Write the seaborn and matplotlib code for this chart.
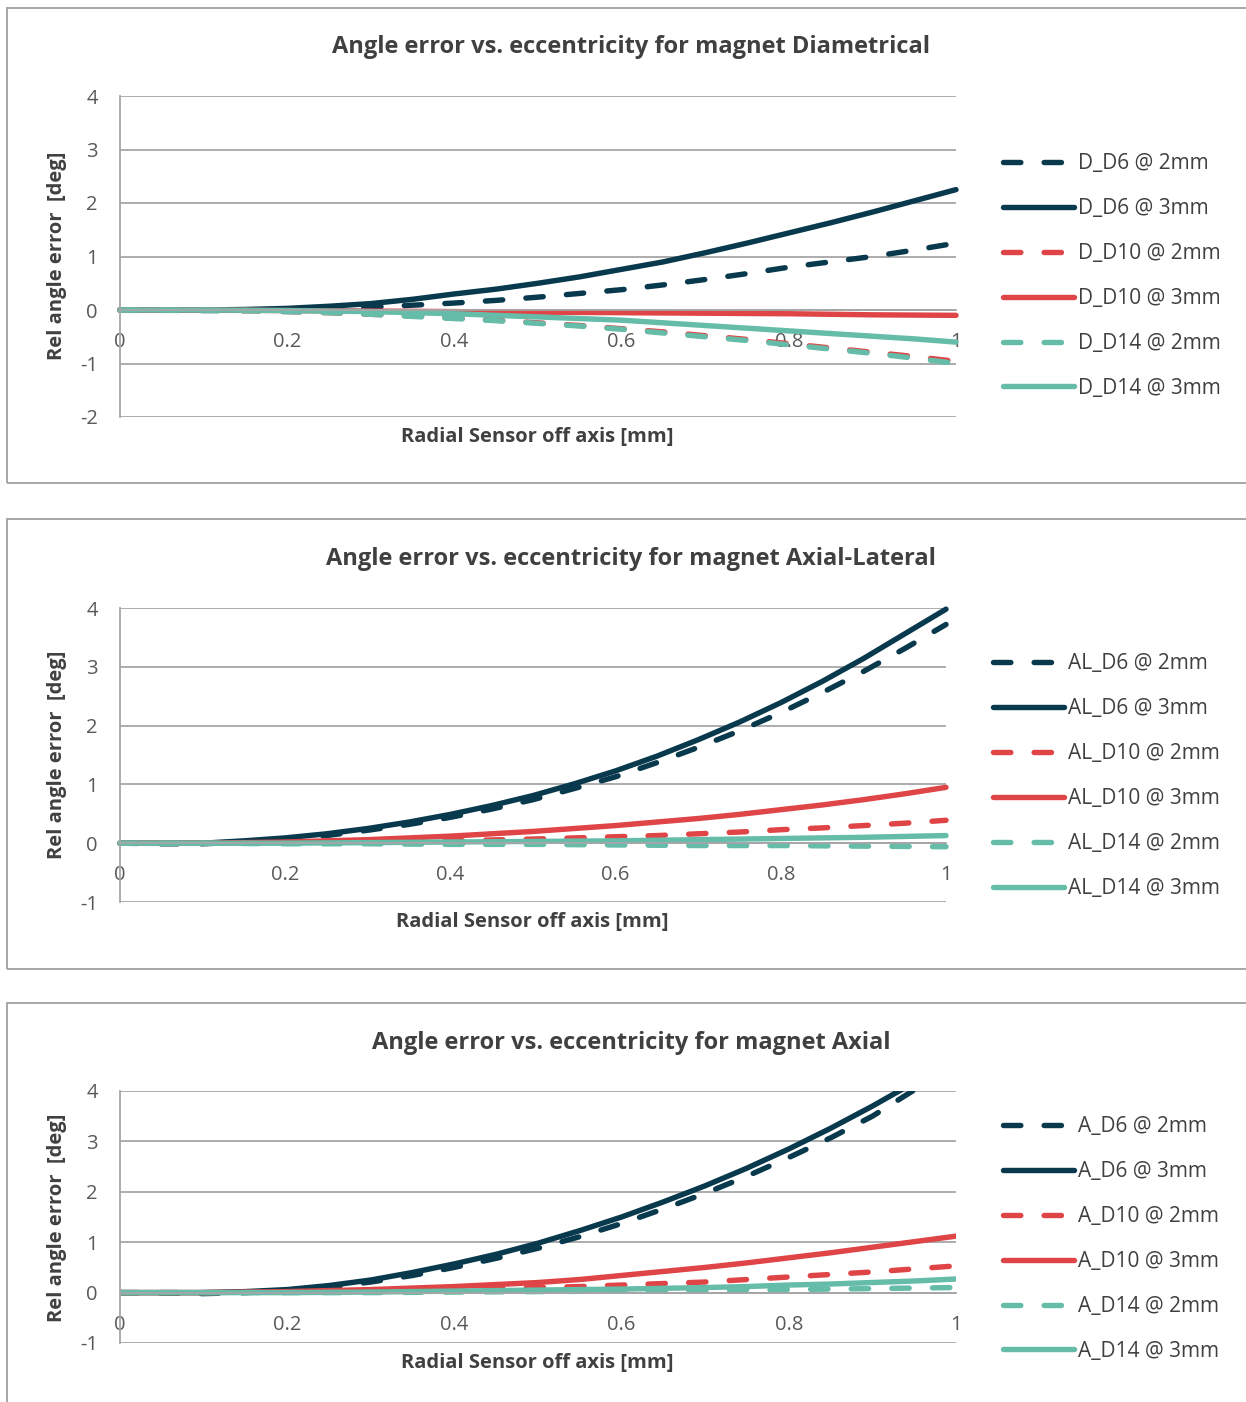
import numpy as np
import pandas as pd
import matplotlib
matplotlib.use("Agg")
import matplotlib.pyplot as plt
from matplotlib.patches import Rectangle
from matplotlib.lines import Line2D
import seaborn as sns

sns.set_theme(style="white")
plt.rcParams['font.family'] = ['Open Sans', 'DejaVu Sans']

# ---------------- data ----------------
x_mm = [0.0, 0.05, 0.1, 0.15, 0.2, 0.25, 0.3, 0.35, 0.4, 0.45, 0.5,
        0.55, 0.6, 0.65, 0.7, 0.75, 0.8, 0.85, 0.9, 0.95, 1.0]

# Diametrical
D_D6_2 = [0, -0.005, -0.01, -0.01, 0.0, 0.02, 0.05, 0.09, 0.13, 0.18, 0.24,
          0.31, 0.38, 0.47, 0.57, 0.68, 0.80, 0.90, 1.00, 1.12, 1.25]
D_D6_3 = [0, 0, 0, 0.01, 0.03, 0.07, 0.12, 0.20, 0.30, 0.39, 0.50,
          0.62, 0.76, 0.90, 1.07, 1.25, 1.44, 1.63, 1.83, 2.04, 2.25]
D_D10_2 = [0, 0, -0.005, -0.01, -0.03, -0.05, -0.08, -0.11, -0.15, -0.19, -0.24,
           -0.29, -0.35, -0.41, -0.48, -0.55, -0.63, -0.71, -0.79, -0.87, -0.96]
D_D10_3 = [0, 0, 0, -0.005, -0.01, -0.015, -0.02, -0.025, -0.03, -0.035, -0.04,
           -0.045, -0.05, -0.055, -0.06, -0.065, -0.07, -0.08, -0.09, -0.095, -0.10]
D_D14_2 = [0, 0, -0.005, -0.01, -0.03, -0.05, -0.08, -0.12, -0.16, -0.20, -0.25,
           -0.30, -0.36, -0.43, -0.50, -0.57, -0.65, -0.73, -0.81, -0.90, -1.00]
D_D14_3 = [0, 0, 0, -0.005, -0.01, -0.02, -0.03, -0.05, -0.07, -0.10, -0.13,
           -0.16, -0.19, -0.24, -0.29, -0.34, -0.39, -0.44, -0.49, -0.54, -0.60]

# Axial-Lateral
AL_D6_2 = [0, -0.01, -0.01, 0.02, 0.07, 0.13, 0.22, 0.32, 0.44, 0.58, 0.74,
           0.93, 1.13, 1.37, 1.63, 1.91, 2.22, 2.56, 2.92, 3.31, 3.72]
AL_D6_3 = [0, 0, 0, 0.04, 0.09, 0.16, 0.25, 0.36, 0.49, 0.64, 0.81,
           1.01, 1.23, 1.48, 1.76, 2.06, 2.39, 2.75, 3.14, 3.56, 3.98]
AL_D10_2 = [0, 0, 0, 0, 0.01, 0.015, 0.02, 0.03, 0.04, 0.055, 0.07,
            0.09, 0.11, 0.13, 0.16, 0.19, 0.23, 0.26, 0.30, 0.34, 0.39]
AL_D10_3 = [0, 0, 0, 0.01, 0.02, 0.04, 0.06, 0.09, 0.12, 0.16, 0.20,
            0.25, 0.30, 0.36, 0.42, 0.49, 0.57, 0.65, 0.74, 0.84, 0.95]
AL_D14_2 = [0, 0, 0, -0.005, -0.01, -0.01, -0.01, -0.015, -0.02, -0.02, -0.02,
            -0.025, -0.03, -0.035, -0.04, -0.04, -0.04, -0.045, -0.05, -0.055, -0.06]
AL_D14_3 = [0, 0, 0, 0, 0, 0.005, 0.01, 0.015, 0.02, 0.025, 0.03,
            0.035, 0.04, 0.05, 0.06, 0.07, 0.08, 0.09, 0.10, 0.115, 0.13]

# Axial
A_D6_2 = [0, -0.01, -0.02, 0.0, 0.04, 0.11, 0.21, 0.34, 0.50, 0.68, 0.88,
          1.11, 1.37, 1.66, 1.97, 2.31, 2.68, 3.07, 3.50, 4.02, 4.50]
A_D6_3 = [0, 0, 0, 0.02, 0.06, 0.14, 0.25, 0.40, 0.57, 0.76, 0.98,
          1.23, 1.50, 1.80, 2.12, 2.47, 2.85, 3.26, 3.70, 4.17, 4.66]
A_D10_2 = [0, 0, 0, 0.005, 0.01, 0.02, 0.03, 0.045, 0.06, 0.08, 0.10,
           0.12, 0.15, 0.18, 0.21, 0.26, 0.31, 0.36, 0.41, 0.47, 0.53]
A_D10_3 = [0, 0, 0, 0.01, 0.02, 0.04, 0.06, 0.09, 0.12, 0.16, 0.20,
           0.26, 0.34, 0.42, 0.50, 0.59, 0.69, 0.79, 0.90, 1.01, 1.12]
A_D14_2 = [0, 0, 0, 0, 0, 0, 0, 0.005, 0.01, 0.015, 0.02,
           0.025, 0.03, 0.04, 0.05, 0.055, 0.06, 0.07, 0.08, 0.09, 0.10]
A_D14_3 = [0, 0, 0, 0, 0, 0.005, 0.01, 0.02, 0.03, 0.04, 0.05,
           0.06, 0.07, 0.085, 0.10, 0.12, 0.15, 0.17, 0.20, 0.23, 0.27]

panels = [
    dict(title="Angle error vs. eccentricity for magnet Diametrical", prefix="D",
         series=[D_D6_2, D_D6_3, D_D10_2, D_D10_3, D_D14_2, D_D14_3],
         ylim=(-2, 4), yticks=[-2, -1, 0, 1, 2, 3, 4]),
    dict(title="Angle error vs. eccentricity for magnet Axial-Lateral", prefix="AL",
         series=[AL_D6_2, AL_D6_3, AL_D10_2, AL_D10_3, AL_D14_2, AL_D14_3],
         ylim=(-1, 4), yticks=[-1, 0, 1, 2, 3, 4]),
    dict(title="Angle error vs. eccentricity for magnet Axial", prefix="A",
         series=[A_D6_2, A_D6_3, A_D10_2, A_D10_3, A_D14_2, A_D14_3],
         ylim=(-1, 4), yticks=[-1, 0, 1, 2, 3, 4]),
]
suffixes = ["D6 @ 2mm", "D6 @ 3mm", "D10 @ 2mm", "D10 @ 3mm", "D14 @ 2mm", "D14 @ 3mm"]
xticks = [0, 0.2, 0.4, 0.6, 0.8, 1]
xticklabels = ["0", "0.2", "0.4", "0.6", "0.8", "1"]

# ---------------- styles ----------------
NAVY, RED, TEAL = "#08394D", "#DF4446", "#65BCA9"
colors = [NAVY, NAVY, RED, RED, TEAL, TEAL]
DASH = (3.2, 4.3)
dash_list = [DASH, "", DASH, "", DASH, ""]
LW = 3.9
W, H = 1246, 1402
GRID = "#A6A6A6"
TXT = "#404040"
TICK = "#595959"

fig = plt.figure(figsize=(W / 100, H / 100), dpi=100)

def fx(px):
    return px / W

def fy(py):
    return 1 - py / H

# layout (pixel coordinates)
layouts = [
    dict(box=(7, 8, 483), ax=(120, 956, 96, 417), title_y=47, xl=(537, 437), yl=(57, 256),
         leg=(1003, 153)),
    dict(box=(7, 519, 969), ax=(120, 946, 608, 902), title_y=559, xl=(532, 922), yl=(57, 755),
         leg=(993, 653)),
    dict(box=(7, 1003, 1412), ax=(120, 956, 1091, 1343), title_y=1043, xl=(537, 1363), yl=(57, 1218),
         leg=(1003, 1116)),
]

for p, L in zip(panels, layouts):
    bx, btop, bbot = L["box"]
    fig.add_artist(Rectangle((fx(bx), fy(bbot)), fx(W + 10 - bx), (bbot - btop) / H,
                             transform=fig.transFigure, fill=False,
                             edgecolor="#A0A0A0", linewidth=1.3, clip_on=False))
    l, r, t, b = L["ax"]
    ax = fig.add_axes([fx(l), fy(b), fx(r - l), (b - t) / H])
    ax.set_facecolor("none")

    labels = [f"{p['prefix']}_{s}" for s in suffixes]
    rows = []
    for lab, vals in zip(labels, p["series"]):
        for xv, yv in zip(x_mm, vals):
            rows.append(dict(x=xv, y=yv, series=lab))
    df = pd.DataFrame(rows)
    pal = dict(zip(labels, colors))
    dsh = dict(zip(labels, dash_list))
    clip = p["prefix"] == "A"
    sns.lineplot(data=df, x="x", y="y", hue="series", style="series",
                 palette=pal, dashes=dsh, hue_order=labels, style_order=labels,
                 linewidth=LW, legend=False, ax=ax, sort=False,
                 solid_capstyle="round", dash_capstyle="round", clip_on=clip)

    ax.set_xlim(0, 1)
    ax.set_ylim(*p["ylim"])
    ax.set_yticks(p["yticks"])
    ax.set_yticklabels([str(v) for v in p["yticks"]])
    ax.set_xticks(xticks)
    ax.set_xticklabels(xticklabels)
    ax.grid(axis="y", color=GRID, linewidth=1.3)
    ax.grid(axis="x", visible=False)
    for s in ["top", "right"]:
        ax.spines[s].set_visible(False)
    ax.spines["left"].set_color(GRID)
    ax.spines["left"].set_linewidth(1.3)
    ax.spines["bottom"].set_position(("data", 0))
    ax.spines["bottom"].set_color(GRID)
    ax.spines["bottom"].set_linewidth(1.3)
    ax.tick_params(axis="y", length=0, pad=16, labelsize=14.5, labelcolor=TICK)
    ax.tick_params(axis="x", length=0, pad=16, labelsize=14.5, labelcolor=TICK)
    ax.set_xlabel("")
    ax.set_ylabel("")

    fig.text(fx(631), fy(L["title_y"]), p["title"], ha="center", va="center",
             fontsize=17, fontweight="bold", color=TXT)
    fig.text(fx(L["xl"][0]), fy(L["xl"][1]), "Radial Sensor off axis [mm]", ha="center",
             va="center", fontsize=14.5, fontweight="bold", color=TXT)
    fig.text(fx(L["yl"][0]), fy(L["yl"][1]), "Rel angle error  [deg]", ha="center",
             va="center", rotation=90, fontsize=14.5, fontweight="bold", color=TXT)

    handles = []
    for c, d in zip(colors, dash_list):
        if d:
            h = Line2D([0], [0], color=c, linewidth=LW, dashes=d,
                       solid_capstyle="round", dash_capstyle="round")
        else:
            h = Line2D([0], [0], color=c, linewidth=LW,
                       solid_capstyle="round", dash_capstyle="round")
        handles.append(h)
    leg = ax.legend(handles, labels, loc="upper left",
                    bbox_to_anchor=(fx(L["leg"][0]), fy(L["leg"][1])),
                    bbox_transform=fig.transFigure, frameon=False,
                    fontsize=15, handlelength=3.4, handletextpad=0.2,
                    labelspacing=1.15, borderpad=0, borderaxespad=0)
    for tx in leg.get_texts():
        tx.set_color(TXT)

fig.savefig("out.png", dpi=100)
